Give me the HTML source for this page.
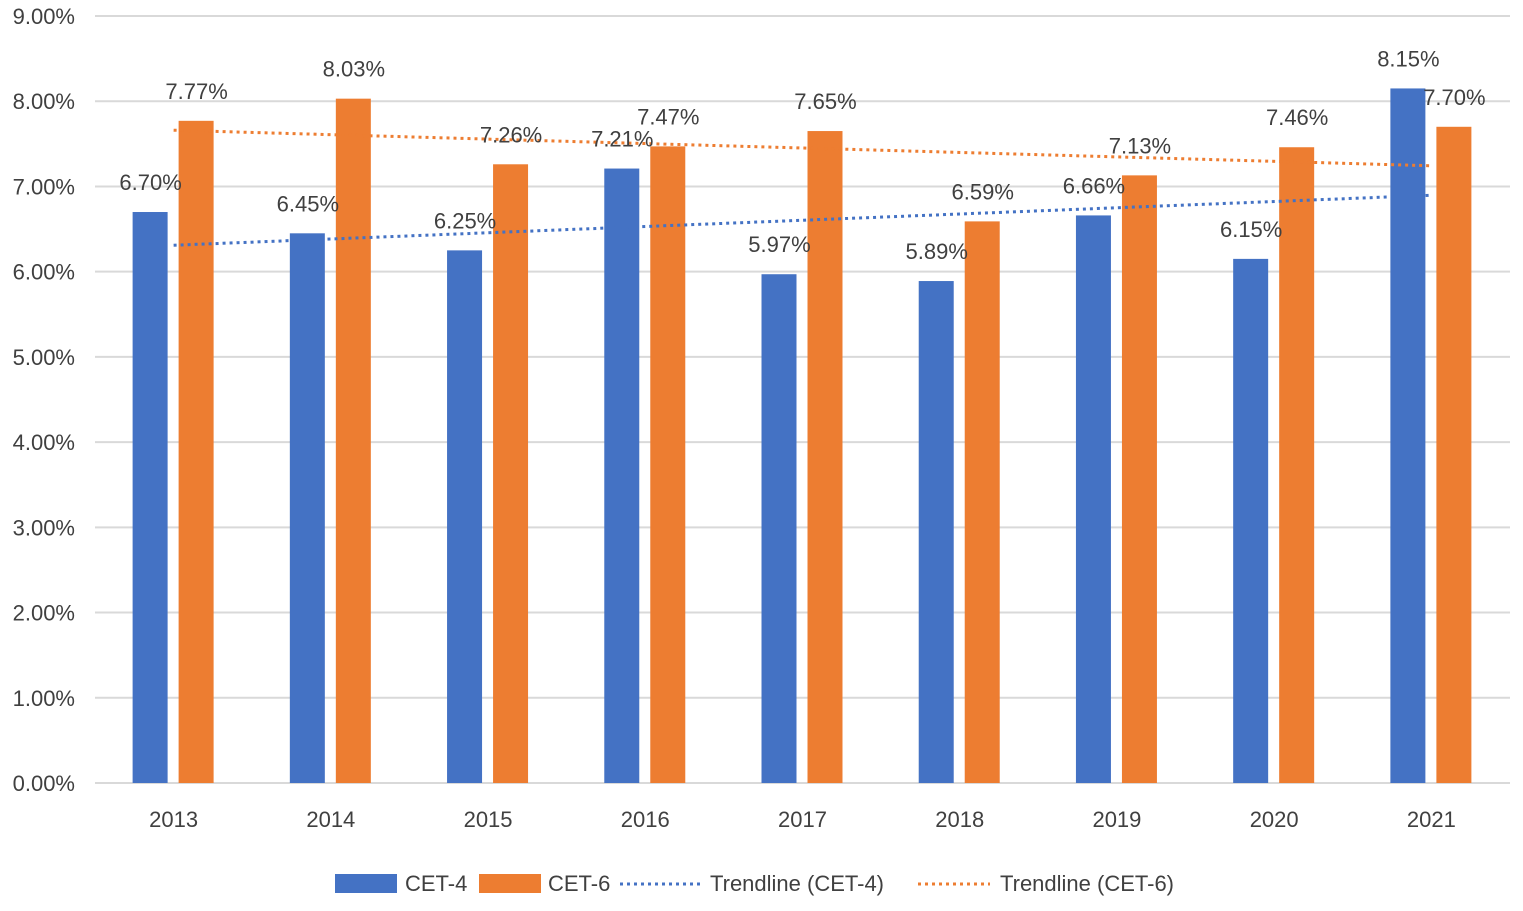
<!DOCTYPE html>
<html><head><meta charset="utf-8"><style>
body{margin:0;background:#fff;}
svg text{font-family:"Liberation Sans",sans-serif;fill:#404040;}
</style></head><body>
<svg id="chart" width="1523" height="906" xmlns="http://www.w3.org/2000/svg">
<g id="grid"></g>
<g id="yticks"></g>
<g id="xticks"></g>
<g id="bars"></g>
<g id="trends"></g>
<g id="labels"></g>
<g>
 <rect x="335" y="874" width="62" height="19" fill="#4472C4"/>
 <text x="405" y="891" font-size="22">CET-4</text>
 <rect x="479" y="874" width="62" height="19" fill="#ED7D31"/>
 <text x="548" y="891" font-size="22">CET-6</text>
 <line x1="620" y1="884" x2="700" y2="884" stroke="#4472C4" stroke-width="3" stroke-dasharray="3 4"/>
 <text x="710" y="891" font-size="22">Trendline (CET-4)</text>
 <line x1="918" y1="884" x2="990" y2="884" stroke="#ED7D31" stroke-width="3" stroke-dasharray="3 4"/>
 <text x="1000" y="891" font-size="22">Trendline (CET-6)</text>
</g>
</svg>
<script>
const categories=["2013","2014","2015","2016","2017","2018","2019","2020","2021"];
const cet4=[6.70,6.45,6.25,7.21,5.97,5.89,6.66,6.15,8.15];
const cet6=[7.77,8.03,7.26,7.47,7.65,6.59,7.13,7.46,7.70];
const yTicks=[0,1,2,3,4,5,6,7,8,9];
const NS="http://www.w3.org/2000/svg";
const x0=95,x1=1510,yBase=783,yTop=16;
const band=(x1-x0)/categories.length;
function xc(i){return x0+band*(i+0.5);}
function y(v){return yBase-(yBase-yTop)*v/9;}
function mk(tag,attrs,parent,txt){const e=document.createElementNS(NS,tag);for(const k in attrs)e.setAttribute(k,attrs[k]);if(txt!==undefined)e.textContent=txt;document.getElementById(parent).appendChild(e);return e;}
yTicks.forEach(t=>{
 const l=mk('line',{x1:x0,x2:x1,y1:y(t),y2:y(t),stroke:'#d9d9d9','stroke-width':2},'grid');
 
 
 const tx=mk('text',{x:75,y:y(t)+8,'font-size':22,'text-anchor':'end'},'yticks',t.toFixed(2)+'%');
 
 
});
categories.forEach((c,i)=>{
 const tx=mk('text',{x:xc(i),y:827,'font-size':22,'text-anchor':'middle'},'xticks',c);
 
 
 const b1=mk('rect',{x:xc(i)-41,y:y(cet4[i]),width:35,height:yBase-y(cet4[i]),fill:'#4472C4'},'bars');
 
 
 const b2=mk('rect',{x:xc(i)+5,y:y(cet6[i]),width:35,height:yBase-y(cet6[i]),fill:'#ED7D31'},'bars');
 
 
 const l1=mk('text',{x:xc(i)-23,y:y(cet4[i])-22,'font-size':22,'text-anchor':'middle'},'labels',cet4[i].toFixed(2)+'%');
 
 
 const l2=mk('text',{x:xc(i)+23,y:y(cet6[i])-22,'font-size':22,'text-anchor':'middle'},'labels',cet6[i].toFixed(2)+'%');
 
 
});
function reg(arr){const n=arr.length;let sx=0,sy=0,sxy=0,sxx=0;arr.forEach((v,i)=>{sx+=i;sy+=v;sxy+=i*v;sxx+=i*i;});const m=(n*sxy-sx*sy)/(n*sxx-sx*sx);return [(sy-m*sx)/n,m];}
[[cet4,'#4472C4','trendline-cet4'],[cet6,'#ED7D31','trendline-cet6']].forEach(([arr,col,nm])=>{
 const [b,m]=reg(arr);const n=arr.length-1;
 const l=mk('line',{x1:xc(0),y1:y(b),x2:xc(n),y2:y(b+m*n),stroke:col,'stroke-width':3,'stroke-dasharray':'3 4'},'trends');
 
 
});
</script>
</body></html>
